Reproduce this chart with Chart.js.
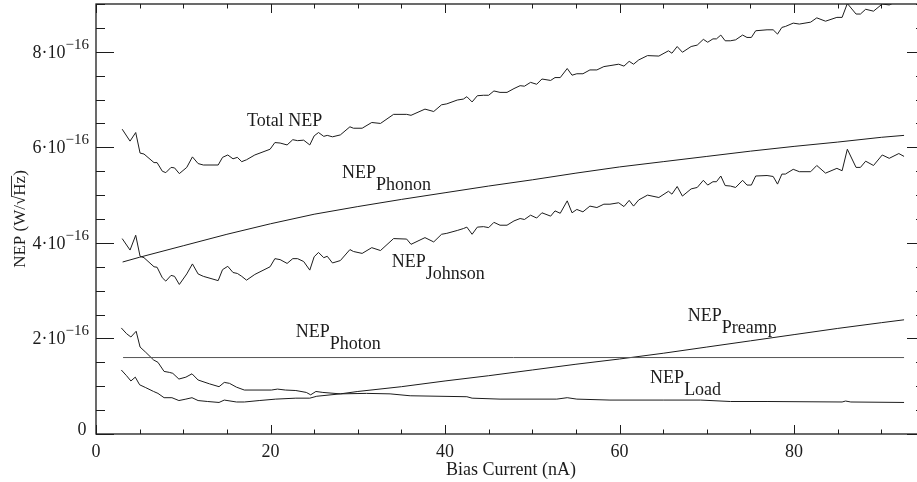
<!DOCTYPE html>
<html>
<head>
<meta charset="utf-8">
<script src="https://cdn.jsdelivr.net/npm/chart.js@4"></script>
<style>
  html, body { margin: 0; padding: 0; overflow: hidden; background: #fff; }
  #wrap { width: 930px; height: 482px; }
</style>
</head>
<body>
<div id="wrap"><canvas id="nepChart" width="930" height="482"></canvas></div>
<script>
// NEP values are in units of 1e-16 W/sqrt(Hz), bias current in nA

// total and Johnson NEP share the same bias points
const bias = [
  3.0, 3.9, 4.55, 5.05, 5.5, 6.65, 7.0, 7.6, 8.0, 8.6, 9.0, 9.55, 10.4, 11.05, 11.7, 12.3,
  14.0, 14.5, 15.1, 15.7, 16.2, 16.7, 17.25, 18.2, 19.95, 20.5, 21.1, 21.9, 22.55, 23.1, 23.8,
  24.5, 25.0, 25.5, 26.1, 26.5, 27.1, 28.0, 29.1, 29.5, 30.5, 31.6, 32.6, 34.1, 35.6, 36.1,
  37.7, 38.7, 39.6, 40.2, 41.4, 42.1, 42.5, 43.1, 43.7, 44.4, 45.0, 45.6, 46.3, 47.1, 47.9,
  48.6, 49.1, 49.8, 50.5, 51.1, 52.1, 52.6, 53.2, 54.0, 54.55, 55.1, 55.8, 56.6, 57.4, 58.2,
  58.9, 59.9, 60.5, 61.1, 61.6, 62.2, 63.2, 64.5, 65.6, 66.0, 66.6, 67.2, 68.2, 68.9, 69.6,
  70.1, 70.7, 71.1, 71.6, 72.1, 72.7, 73.3, 74.1, 74.6, 75.1, 75.6, 76.9, 77.6, 78.1, 78.6,
  79.0, 79.9, 80.6, 81.9, 82.6, 83.6, 84.9, 85.5, 86.1, 87.1, 87.6, 88.2, 89.1, 90.1, 90.9,
  92.0, 92.6
];
const totalNep = [
  6.38, 6.13, 6.31, 5.88, 5.86, 5.68, 5.68, 5.50, 5.47, 5.58, 5.57, 5.45, 5.58, 5.80, 5.66, 5.63,
  5.63, 5.79, 5.84, 5.76, 5.79, 5.70, 5.74, 5.84, 5.96, 6.10, 6.09, 6.05, 6.16, 6.14, 6.15,
  6.05, 6.24, 6.31, 6.23, 6.25, 6.22, 6.26, 6.43, 6.40, 6.40, 6.52, 6.50, 6.69, 6.69, 6.67,
  6.80, 6.75, 6.89, 6.91, 6.99, 7.01, 7.06, 6.95, 7.08, 7.09, 7.09, 7.18, 7.15, 7.15, 7.23,
  7.29, 7.28, 7.36, 7.32, 7.43, 7.40, 7.46, 7.46, 7.65, 7.51, 7.54, 7.54, 7.62, 7.62, 7.69,
  7.71, 7.74, 7.70, 7.80, 7.74, 7.83, 7.92, 7.91, 8.02, 7.97, 8.11, 7.99, 8.11, 8.14, 8.26,
  8.20, 8.27, 8.27, 8.35, 8.23, 8.23, 8.25, 8.35, 8.30, 8.30, 8.44, 8.46, 8.46, 8.37, 8.51,
  8.53, 8.60, 8.58, 8.62, 8.71, 8.64, 8.72, 8.72, 9.01, 8.79, 8.79, 8.89, 8.85, 9.00, 8.98,
  9.08, 9.05
];
const johnsonNep = [
  4.09, 3.85, 4.16, 3.72, 3.69, 3.50, 3.49, 3.27, 3.20, 3.32, 3.30, 3.13, 3.35, 3.56, 3.35, 3.30,
  3.21, 3.44, 3.51, 3.38, 3.36, 3.30, 3.22, 3.34, 3.50, 3.67, 3.65, 3.57, 3.67, 3.67, 3.61,
  3.43, 3.71, 3.80, 3.69, 3.72, 3.58, 3.63, 3.86, 3.82, 3.78, 3.90, 3.84, 4.09, 4.08, 3.97,
  4.11, 4.02, 4.18, 4.20, 4.26, 4.30, 4.33, 4.18, 4.33, 4.34, 4.32, 4.43, 4.37, 4.37, 4.46,
  4.51, 4.49, 4.58, 4.52, 4.63, 4.56, 4.67, 4.62, 4.88, 4.63, 4.70, 4.65, 4.77, 4.74, 4.81,
  4.81, 4.84, 4.76, 4.89, 4.77, 4.90, 5.00, 4.95, 5.08, 5.02, 5.18, 4.98, 5.13, 5.16, 5.31,
  5.21, 5.28, 5.28, 5.40, 5.20, 5.19, 5.16, 5.31, 5.21, 5.21, 5.40, 5.41, 5.39, 5.23, 5.44,
  5.44, 5.54, 5.49, 5.49, 5.62, 5.46, 5.56, 5.51, 5.96, 5.58, 5.58, 5.71, 5.62, 5.84, 5.77,
  5.87, 5.81
];

const loadBias = [
  2.9, 3.5, 4.0, 4.6, 5.05, 5.7, 6.6, 7.1, 7.8, 8.4, 8.8, 9.5, 10.3, 11.0, 11.7, 13.0, 14.1,
  14.7, 15.3, 16.1, 17.0, 20.1, 20.8, 21.7, 22.9, 24.1, 24.6, 25.2, 26.0, 28.0, 31.0, 33.7,
  36.0, 42.5, 43.1, 46.3, 52.8, 54.0, 55.1, 58.9, 65.0, 69.3, 72.7, 76.9, 85.5, 85.9, 86.5, 92.6
];
const loadNep = [
  2.22, 2.10, 2.03, 2.15, 1.82, 1.71, 1.55, 1.50, 1.31, 1.29, 1.27, 1.15, 1.19, 1.26, 1.13, 1.05, 0.99,
  1.08, 1.06, 0.98, 0.92, 0.92, 0.94, 0.92, 0.91, 0.87, 0.82, 0.89, 0.87, 0.84, 0.85, 0.84,
  0.80, 0.78, 0.75, 0.73, 0.73, 0.76, 0.73, 0.71, 0.71, 0.71, 0.68, 0.68, 0.67, 0.69, 0.67, 0.66
];

const preampBias = [
  2.9, 3.5, 4.0, 4.5, 5.0, 5.7, 6.6, 7.1, 7.8, 8.7, 9.5, 10.3, 11.0, 11.7, 12.8, 14.1, 14.7,
  16.1, 17.0, 18.7, 20.6, 22.9, 24.5, 25.3, 28.0, 30, 35, 40, 45, 50, 55, 60, 65, 70, 75, 80,
  85, 90, 92.6
];
const preampNep = [
  1.34, 1.22, 1.11, 1.19, 1.03, 0.97, 0.89, 0.85, 0.76, 0.76, 0.70, 0.73, 0.76, 0.70, 0.68, 0.66, 0.71,
  0.67, 0.67, 0.70, 0.73, 0.75, 0.75, 0.79, 0.84, 0.89, 0.99, 1.11, 1.22, 1.34, 1.46, 1.57, 1.69, 1.82, 1.95, 2.08,
  2.21, 2.33, 2.39
];

const phononBias = [3.05, 5, 10, 15, 20, 25, 30, 35, 40, 45, 50, 55, 60, 65, 70, 75, 80, 85, 90, 92.6];
const phononNep = [3.60, 3.70, 3.94, 4.18, 4.40, 4.60, 4.76, 4.91, 5.05, 5.19, 5.32, 5.46, 5.59, 5.70, 5.81, 5.92, 6.02, 6.11, 6.21, 6.25];

const photonBias = [3.1, 92.6];
const photonNep = [1.60, 1.60];

// axis ticks
const xTicks = [0, 20, 40, 60, 80];
const yTicks = [0, 2, 4, 6, 8];

const FONT = '"Liberation Serif", "Times New Roman", serif';
const INK = '#1c1c1c';

// curve labels, placed in data coordinates
const notes = [
  { main: 'Total NEP', sub: '', x: 17.3, y: 6.45 },
  { main: 'NEP', sub: 'Phonon', x: 28.2, y: 5.36 },
  { main: 'NEP', sub: 'Johnson', x: 33.9, y: 3.50 },
  { main: 'NEP', sub: 'Photon', x: 22.9, y: 2.04 },
  { main: 'NEP', sub: 'Preamp', x: 67.8, y: 2.37 },
  { main: 'NEP', sub: 'Load', x: 63.5, y: 1.06 }
];

function pts(xs, ys) {
  return xs.map((x, i) => ({ x: x, y: ys[i] }));
}

function line(label, xs, ys, color) {
  return {
    label: label,
    data: pts(xs, ys),
    showLine: true,
    borderColor: color || INK,
    borderWidth: 1,
    pointRadius: 0,
    tension: 0,
    fill: false
  };
}

const framePlugin = {
  id: 'frame',
  afterDraw(chart) {
    const ctx = chart.ctx;
    const a = chart.chartArea;
    const xs = chart.scales.x, ys = chart.scales.y;
    ctx.save();

    // box
    ctx.strokeStyle = INK;
    ctx.lineWidth = 1.3;
    ctx.strokeRect(a.left, a.top, a.right - a.left, a.bottom - a.top);

    // ticks, pointing inwards on all four sides
    ctx.lineWidth = 1;
    ctx.beginPath();
    for (let v = 0; v <= xs.max; v += 5) {
      const px = Math.round(xs.getPixelForValue(v)) + 0.5;
      const len = xTicks.includes(v) ? 9 : 4.5;
      ctx.moveTo(px, a.bottom); ctx.lineTo(px, a.bottom - len);
      ctx.moveTo(px, a.top); ctx.lineTo(px, a.top + len);
    }
    for (let v = 0; v <= ys.max; v += 0.5) {
      const py = Math.round(ys.getPixelForValue(v)) + 0.5;
      const len = yTicks.includes(v) ? 18 : 9;
      ctx.moveTo(a.left, py); ctx.lineTo(a.left + len, py);
      ctx.moveTo(a.right, py); ctx.lineTo(a.right - len, py);
    }
    ctx.stroke();

    ctx.fillStyle = INK;
    // x tick labels
    ctx.font = '18px ' + FONT;
    ctx.textAlign = 'center';
    ctx.textBaseline = 'alphabetic';
    xTicks.forEach(v => {
      ctx.fillText(String(v), xs.getPixelForValue(v), a.bottom + 23);
    });

    // y tick labels: n·10^-16
    const labelRight = a.left - 7;
    yTicks.forEach(v => {
      const py = ys.getPixelForValue(v);
      ctx.textAlign = 'right';
      if (v === 0) {
        ctx.font = '18px ' + FONT;
        ctx.fillText('0', labelRight - 2.5, py + 1);
        return;
      }
      ctx.font = '15px ' + FONT;
      const sup = '\u221216';
      const supW = ctx.measureText(sup).width;
      ctx.fillText(sup, labelRight, py - 3);
      ctx.font = '18px ' + FONT;
      ctx.fillText(v + '\u00b710', labelRight - supW, py + 6);
    });

    // axis titles
    ctx.font = '18px ' + FONT;
    ctx.textAlign = 'center';
    ctx.fillText('Bias Current (nA)', (a.left + 916) / 2 + 5, 475);

    ctx.save();
    ctx.translate(25, (a.top + a.bottom) / 2);
    ctx.rotate(-Math.PI / 2);
    ctx.font = '17px ' + FONT;
    const title = 'NEP (W/\u221aHz)';
    ctx.fillText(title, 0, 0);
    const tw = ctx.measureText(title).width;
    const pre = ctx.measureText('NEP (W/\u221a').width;
    const hz = ctx.measureText('Hz').width;
    const x0 = -tw / 2 + pre - 1;
    ctx.lineWidth = 0.9;
    ctx.beginPath();
    ctx.moveTo(x0, -13.5);
    ctx.lineTo(x0 + hz + 1, -13.5);
    ctx.stroke();
    ctx.restore();

    // curve labels
    ctx.textAlign = 'left';
    ctx.font = '18px ' + FONT;
    notes.forEach(n => {
      const px = xs.getPixelForValue(n.x);
      const py = ys.getPixelForValue(n.y);
      ctx.fillText(n.main, px, py);
      if (n.sub) {
        const w = ctx.measureText(n.main).width;
        ctx.fillText(n.sub, px + w, py + 12);
      }
    });

    ctx.restore();
  }
};

new Chart(document.getElementById('nepChart').getContext('2d'), {
  type: 'scatter',
  data: {
    datasets: [
      line('Total NEP', bias, totalNep),
      line('NEP Phonon', phononBias, phononNep),
      line('NEP Johnson', bias, johnsonNep),
      line('NEP Photon', photonBias, photonNep, '#555'),
      line('NEP Preamp', preampBias, preampNep),
      line('NEP Load', loadBias, loadNep)
    ]
  },
  options: {
    responsive: false,
    animation: false,
    devicePixelRatio: 1,
    layout: { padding: { top: 4, right: 5, left: 0, bottom: 0 } },
    plugins: {
      legend: { display: false },
      tooltip: { enabled: false }
    },
    scales: {
      x: {
        type: 'linear',
        min: 0,
        max: 95,
        grid: { display: false },
        border: { display: false },
        ticks: { display: false },
        afterFit: s => { s.height = 48; }
      },
      y: {
        min: 0,
        max: 9,
        grid: { display: false },
        border: { display: false },
        ticks: { display: false },
        afterFit: s => { s.width = 96; }
      }
    }
  },
  plugins: [framePlugin]
});
</script>
</body>
</html>
